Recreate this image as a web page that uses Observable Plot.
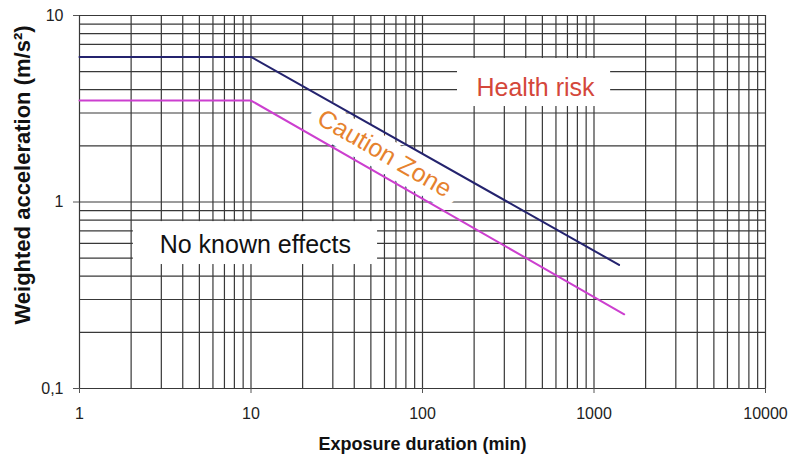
<!DOCTYPE html>
<html>
<head>
<meta charset="utf-8">
<script src="https://cdn.jsdelivr.net/npm/d3@7"></script>
<script src="https://cdn.jsdelivr.net/npm/@observablehq/plot@0.6"></script>
<style>
  html, body { margin: 0; padding: 0; background: white; }
</style>
</head>
<body>
<div id="chart"></div>
<script>
// Grid values (log minor lines)
const xGrid = [1,2,3,4,5,6,7,8,9,10,20,30,40,50,60,70,80,90,100,200,300,400,500,600,700,800,900,1000,2000,3000,4000,5000,6000,7000,8000,9000,10000];
const yGrid = [0.1,0.2,0.3,0.4,0.5,0.6,0.7,0.8,0.9,1,2,3,4,5,6,7,8,9,10];
const xTicks = [1, 10, 100, 1000, 10000];
const yTicks = [0.1, 1, 10];

// Series: exposure limit value (health risk) and exposure action value (caution)
const limitDuration = [1, 10, 1400];
const limitAccel = [6, 6, 0.46];
const actionDuration = [1, 10, 1500];
const actionAccel = [3.5, 3.5, 0.25];

// Zone labels (data units)
const zoneText = ["Health risk", "Caution Zone", "No known effects"];
const zoneX = [456, 60, 10.6];
const zoneY = [4.1, 1.82, 0.59];
// White label boxes (data units)
const boxX1 = [160, 2.06];
const boxX2 = [1250, 54.7];
const boxY1 = [3.25, 0.462];
const boxY2 = [5.88, 0.785];

const limitData = limitDuration.map((d, i) => ({x: d, y: limitAccel[i]}));
const actionData = actionDuration.map((d, i) => ({x: d, y: actionAccel[i]}));
const boxes = boxX1.map((d, i) => ({x1: d, x2: boxX2[i], y1: boxY1[i], y2: boxY2[i]}));
const zones = zoneText.map((t, i) => ({text: t, x: zoneX[i], y: zoneY[i]}));

const gridColor = "#383838";
const font = "'Liberation Sans', Arial, Helvetica, sans-serif";

const chart = Plot.plot({
  width: 789,
  height: 456,
  marginLeft: 79,
  marginRight: 24,
  marginTop: 15,
  marginBottom: 68,
  x: {type: "log", domain: [1, 10000]},
  y: {type: "log", domain: [0.1, 10]},
  style: {fontFamily: font, fontSize: "16px", color: "#222", background: "white"},
  marks: [
    Plot.ruleX(xGrid, {stroke: gridColor, strokeWidth: 1.2}),
    Plot.ruleY(yGrid, {stroke: gridColor, strokeWidth: 1.2}),
    Plot.rect(boxes, {x1: "x1", x2: "x2", y1: "y1", y2: "y2", fill: "white"}),
    Plot.text([zones[1]], {x: "x", y: "y", text: "text", rotate: 30, fontSize: 25,
      fill: "none", stroke: "white", strokeWidth: 20, strokeLinejoin: "round"}),
    Plot.axisX({ticks: xTicks, tickSize: 5, tickPadding: 14, tickFormat: d => String(d),
      label: null, fontSize: 16, stroke: "#555"}),
    Plot.axisY({ticks: yTicks, tickSize: 6, tickPadding: 10,
      tickFormat: d => String(d).replace(".", ","), label: null, fontSize: 16, stroke: "#555"}),
    Plot.line(limitData, {x: "x", y: "y", stroke: "#24236e", strokeWidth: 2}),
    Plot.line(actionData, {x: "x", y: "y", stroke: "#cc3fcf", strokeWidth: 2}),
    Plot.text([zones[0]], {x: "x", y: "y", text: "text", fontSize: 25, fill: "#d4473a"}),
    Plot.text([zones[1]], {x: "x", y: "y", text: "text", rotate: 30, fontSize: 25, fill: "#e6822e"}),
    Plot.text([zones[2]], {x: "x", y: "y", text: "text", fontSize: 25, fill: "#111"}),
    Plot.text(["Exposure duration (min)"], {frameAnchor: "bottom", dy: 61, textAnchor: "middle",
      fontWeight: "bold", fontSize: 18, fill: "#111"}),
    Plot.text(["Weighted acceleration (m/s²)"], {frameAnchor: "left", textAnchor: "middle",
      rotate: -90, dx: -57, dy: -27, fontWeight: "bold", fontSize: 22, fill: "#111"})
  ]
});
document.getElementById("chart").appendChild(chart);
</script>
</body>
</html>
